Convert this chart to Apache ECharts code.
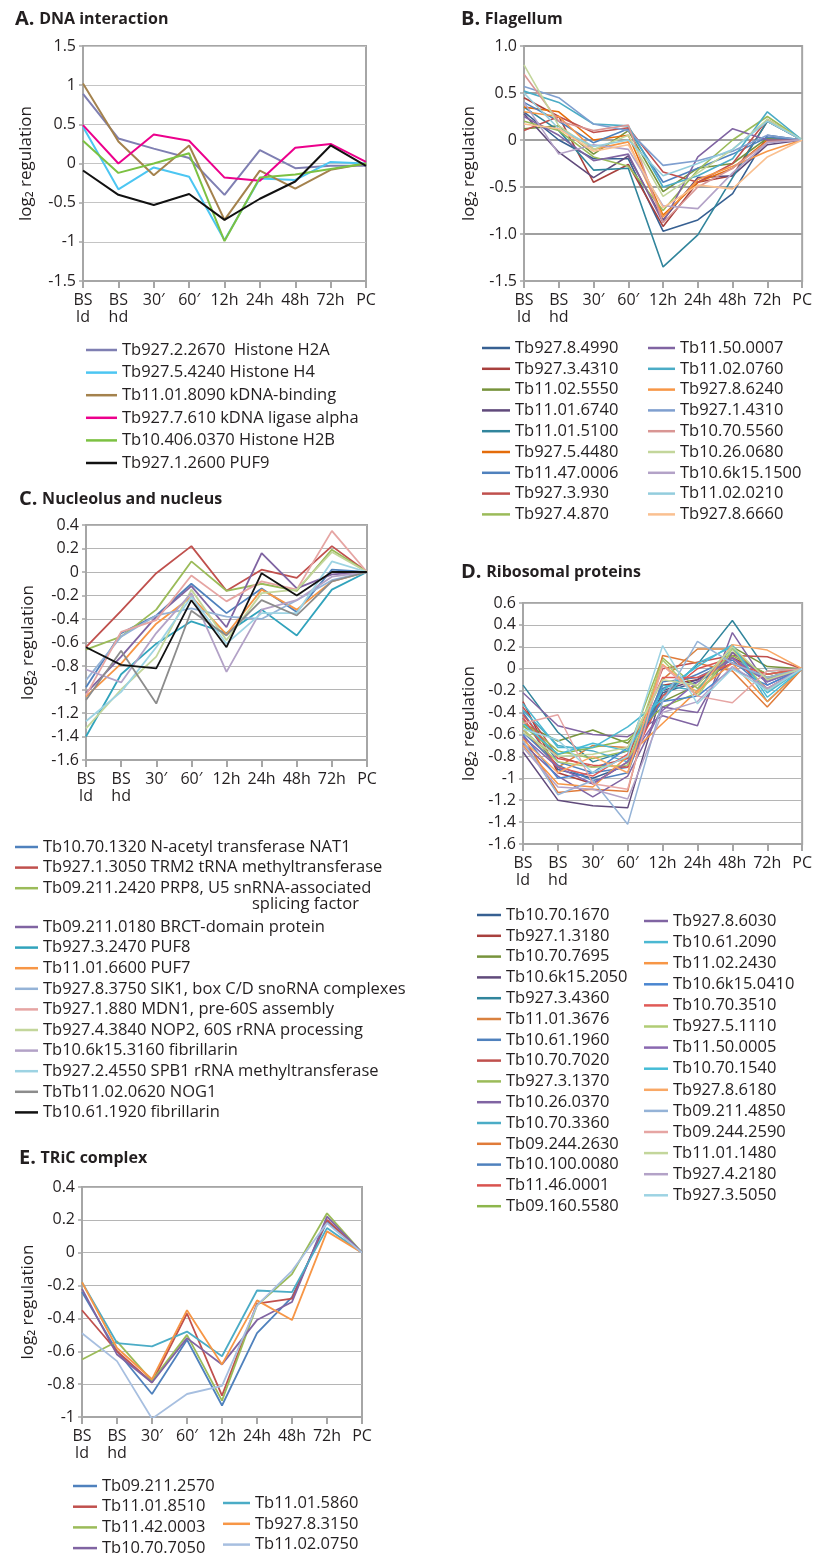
<!DOCTYPE html>
<html>
<head>
<meta charset="utf-8">
<script src="https://cdn.jsdelivr.net/npm/echarts@6/dist/echarts.min.js"></script>
<style>
  html, body { margin: 0; padding: 0; background: #fff; }
  #chart { width: 815px; height: 1558px; }
</style>
</head>
<body>
<div id="chart"></div>
<script>
// Time points of the differentiation series
const timePoints = ['BS\nld', 'BS\nhd', '30\u2032', '60\u2032', '12h', '24h', '48h', '72h', 'PC'];

// A. DNA interaction
const dnaNames = [
  'Tb927.2.2670  Histone H2A',
  'Tb927.5.4240 Histone H4',
  'Tb11.01.8090 kDNA-binding',
  'Tb927.7.610 kDNA ligase alpha',
  'Tb10.406.0370 Histone H2B',
  'Tb927.1.2600 PUF9'
];
const dnaValues = [
  [0.89, 0.32, 0.19, 0.07, -0.40, 0.17, -0.06, -0.03, -0.03],
  [0.47, -0.33, -0.05, -0.17, -0.98, -0.19, -0.21, 0.02, 0.00],
  [1.02, 0.28, -0.15, 0.23, -0.72, -0.09, -0.32, -0.08, 0.00],
  [0.49, 0.00, 0.37, 0.29, -0.18, -0.22, 0.20, 0.25, 0.02],
  [0.29, -0.12, 0.00, 0.13, -0.99, -0.18, -0.14, -0.07, 0.00],
  [-0.09, -0.40, -0.53, -0.39, -0.72, -0.45, -0.23, 0.23, -0.03]
];
const dnaColors = ['#7f7fb2', '#4cc6f2', '#a4824d', '#ec008c', '#7cc142', '#111111'];

// B. Flagellum
const flagNames = [
  'Tb927.8.4990', 'Tb927.3.4310', 'Tb11.02.5550', 'Tb11.01.6740', 'Tb11.01.5100',
  'Tb927.5.4480', 'Tb11.47.0006', 'Tb927.3.930', 'Tb927.4.870',
  'Tb11.50.0007', 'Tb11.02.0760', 'Tb927.8.6240', 'Tb927.1.4310', 'Tb10.70.5560',
  'Tb10.26.0680', 'Tb10.6k15.1500', 'Tb11.02.0210', 'Tb927.8.6660'
];
const flagValues = [
  [0.30, 0.00, -0.20, -0.20, -0.97, -0.85, -0.57, 0.05, 0],
  [0.45, 0.25, -0.45, -0.26, -0.92, -0.45, -0.38, 0.20, 0],
  [0.12, 0.15, -0.15, 0.10, -0.55, -0.30, -0.25, 0.02, 0],
  [0.28, -0.13, -0.40, -0.17, -0.85, -0.40, -0.38, -0.05, 0],
  [0.35, 0.10, -0.32, -0.30, -1.35, -1.01, -0.40, 0.20, 0],
  [0.35, 0.30, 0.00, 0.05, -0.80, -0.45, -0.30, 0.00, 0],
  [0.40, 0.20, -0.03, 0.12, -0.45, -0.30, -0.15, 0.03, 0],
  [0.10, 0.25, 0.08, 0.13, -0.34, -0.45, -0.25, 0.22, 0],
  [0.20, 0.10, -0.18, -0.28, -0.75, -0.32, 0.00, 0.25, 0],
  [0.25, 0.05, -0.22, -0.15, -0.88, -0.18, 0.12, 0.00, 0],
  [0.52, 0.40, 0.17, 0.15, -0.50, -0.38, -0.20, 0.30, 0],
  [0.30, 0.25, -0.10, -0.02, -0.82, -0.42, -0.28, -0.12, 0],
  [0.57, 0.45, 0.17, 0.10, -0.27, -0.22, -0.12, 0.05, 0],
  [0.70, 0.20, 0.10, 0.16, -0.88, -0.50, -0.30, -0.02, 0],
  [0.80, 0.15, -0.10, 0.05, -0.60, -0.35, -0.10, 0.22, 0],
  [0.40, -0.15, -0.05, -0.10, -0.70, -0.73, -0.35, -0.03, 0],
  [0.50, 0.12, -0.07, 0.00, -0.38, -0.25, -0.10, 0.20, 0],
  [0.17, 0.12, -0.12, -0.05, -0.72, -0.48, -0.52, -0.18, 0]
];
const flagColors = [
  '#376092', '#a8403d', '#77933c', '#604a7b', '#31859c', '#e46c0a',
  '#4f81bd', '#c0504d', '#9bbb59', '#8064a2', '#4bacc6', '#f79646',
  '#7f9fcf', '#d99694', '#c3d69b', '#b3a2c7', '#93cddd', '#fac090'
];

// C. Nucleolus and nucleus
const nucNames = [
  'Tb10.70.1320 N-acetyl transferase NAT1',
  'Tb927.1.3050 TRM2 tRNA methyltransferase',
  'Tb09.211.2420 PRP8, U5 snRNA-associated',
  'Tb09.211.0180 BRCT-domain protein',
  'Tb927.3.2470 PUF8',
  'Tb11.01.6600 PUF7',
  'Tb927.8.3750 SIK1, box C/D snoRNA complexes',
  'Tb927.1.880 MDN1, pre-60S assembly',
  'Tb927.4.3840 NOP2, 60S rRNA processing',
  'Tb10.6k15.3160 fibrillarin',
  'Tb927.2.4550 SPB1 rRNA methyltransferase',
  'TbTb11.02.0620 NOG1',
  'Tb10.61.1920 fibrillarin'
];
const nucValues = [
  [-0.98, -0.52, -0.37, -0.10, -0.35, -0.14, -0.34, 0.02, 0],
  [-0.64, -0.33, -0.01, 0.22, -0.16, 0.02, -0.05, 0.22, 0],
  [-0.66, -0.55, -0.32, 0.09, -0.16, -0.10, -0.16, 0.19, 0],
  [-1.03, -0.72, -0.38, -0.12, -0.47, 0.16, -0.14, -0.02, 0],
  [-1.40, -0.87, -0.61, -0.42, -0.52, -0.32, -0.54, -0.15, 0],
  [-1.06, -0.78, -0.44, -0.21, -0.53, -0.15, -0.32, -0.08, 0],
  [-0.92, -0.55, -0.37, -0.31, -0.38, -0.40, -0.24, -0.07, 0],
  [-1.05, -0.51, -0.41, -0.03, -0.25, -0.08, -0.15, 0.35, 0],
  [-1.33, -1.00, -0.72, -0.15, -0.58, -0.18, -0.15, 0.17, 0],
  [-0.83, -0.94, -0.52, -0.18, -0.85, -0.32, -0.24, -0.04, 0],
  [-1.27, -1.02, -0.64, -0.21, -0.61, -0.35, -0.35, 0.09, 0],
  [-1.09, -0.67, -1.12, -0.33, -0.54, -0.24, -0.37, -0.08, 0],
  [-0.64, -0.79, -0.82, -0.24, -0.64, -0.01, -0.20, 0.00, 0]
];
const nucColors = [
  '#4f81bd', '#c0504d', '#9bbb59', '#8064a2', '#31a3bc', '#f79646', '#95b3d7',
  '#e6a5a3', '#c3d69b', '#b3a2c7', '#9dd3e3', '#8c8c8c', '#111111'
];

// D. Ribosomal proteins
const riboNames = [
  'Tb10.70.1670', 'Tb927.1.3180', 'Tb10.70.7695', 'Tb10.6k15.2050', 'Tb927.3.4360',
  'Tb11.01.3676', 'Tb10.61.1960', 'Tb10.70.7020', 'Tb927.3.1370', 'Tb10.26.0370',
  'Tb10.70.3360', 'Tb09.244.2630', 'Tb10.100.0080', 'Tb11.46.0001', 'Tb09.160.5580',
  'Tb927.8.6030', 'Tb10.61.2090', 'Tb11.02.2430', 'Tb10.6k15.0410', 'Tb10.70.3510',
  'Tb927.5.1110', 'Tb11.50.0005', 'Tb10.70.1540', 'Tb927.8.6180', 'Tb09.211.4850',
  'Tb09.244.2590', 'Tb11.01.1480', 'Tb927.4.2180', 'Tb927.3.5050'
];
const riboValues = [
  [-0.45, -0.92, -1.00, -0.88, -0.22, -0.12, 0.05, -0.08, 0],
  [-0.30, -0.95, -1.05, -0.85, -0.15, -0.10, 0.10, -0.05, 0],
  [-0.50, -0.66, -0.56, -0.68, -0.30, -0.15, 0.20, 0.02, 0],
  [-0.76, -1.20, -1.25, -1.27, -0.20, -0.10, 0.05, -0.10, 0],
  [-0.15, -0.58, -0.85, -0.75, -0.25, 0.04, 0.44, -0.02, 0],
  [-0.55, -0.90, -0.70, -0.72, -0.10, 0.18, 0.18, -0.10, 0],
  [-0.40, -0.85, -0.95, -0.90, -0.18, -0.05, 0.10, -0.12, 0],
  [-0.35, -0.80, -0.90, -0.82, 0.00, 0.06, 0.12, 0.11, 0],
  [-0.48, -0.75, -0.82, -0.75, 0.10, -0.18, 0.15, -0.08, 0],
  [-0.22, -0.52, -0.60, -0.62, -0.43, -0.52, 0.33, -0.15, 0],
  [-0.38, -0.70, -0.75, -0.85, -0.15, -0.20, 0.20, -0.30, 0],
  [-0.62, -1.13, -1.10, -1.12, 0.12, 0.05, -0.02, -0.35, 0],
  [-0.58, -0.88, -1.02, -0.95, -0.12, -0.08, 0.08, -0.20, 0],
  [-0.42, -0.82, -0.88, -0.90, -0.25, 0.00, 0.10, -0.18, 0],
  [-0.52, -0.78, -0.72, -0.65, -0.35, -0.22, 0.12, -0.05, 0],
  [-0.68, -0.98, -1.17, -0.98, -0.35, -0.40, 0.15, -0.10, 0],
  [-0.32, -0.72, -0.72, -0.53, -0.28, 0.05, 0.20, -0.22, 0],
  [-0.70, -1.05, -1.08, -0.80, -0.50, -0.20, 0.05, -0.30, 0],
  [-0.60, -1.00, -0.95, -0.72, -0.30, -0.25, 0.00, -0.15, 0],
  [-0.45, -0.90, -0.98, -0.78, -0.08, -0.08, 0.05, -0.05, 0],
  [-0.55, -0.85, -0.90, -0.88, 0.08, -0.25, 0.18, -0.20, 0],
  [-0.62, -0.90, -1.05, -0.85, -0.38, -0.12, 0.10, -0.12, 0],
  [-0.50, -0.78, -0.68, -0.75, -0.20, 0.02, 0.22, -0.26, 0],
  [-0.65, -0.95, -0.80, -0.95, 0.04, -0.22, 0.22, 0.17, 0],
  [-0.66, -1.15, -1.02, -1.42, -0.30, 0.25, 0.05, -0.08, 0],
  [-0.50, -0.42, -1.05, -1.10, 0.03, -0.25, -0.31, -0.02, 0],
  [-0.58, -0.80, -0.78, -0.72, -0.10, -0.15, 0.20, -0.10, 0],
  [-0.72, -1.08, -1.10, -1.19, -0.40, -0.30, 0.02, -0.18, 0],
  [-0.55, -0.65, -0.95, -0.80, 0.21, -0.32, 0.00, -0.20, 0]
];
const riboColors = [
  '#376092', '#a8403d', '#77933c', '#604a7b', '#31859c', '#d9813f',
  '#4f81bd', '#c0504d', '#9bbb59', '#8064a2', '#4bacc6', '#e07b39',
  '#4f81bd', '#d9534f', '#8db64c', '#8064a2', '#4bb8d2', '#f79646',
  '#4a86d0', '#e05a57', '#b1cc75', '#8a68b0', '#45bcd6', '#f9a866',
  '#95b3d7', '#e6a5a3', '#c3d69b', '#b3a2c7', '#9dd3e3'
];

// E. TRiC complex
const tricNames = [
  'Tb09.211.2570', 'Tb11.01.8510', 'Tb11.42.0003', 'Tb10.70.7050',
  'Tb11.01.5860', 'Tb927.8.3150', 'Tb11.02.0750'
];
const tricValues = [
  [-0.24, -0.60, -0.86, -0.53, -0.93, -0.49, -0.27, 0.19, 0],
  [-0.35, -0.60, -0.79, -0.37, -0.87, -0.31, -0.28, 0.20, 0],
  [-0.65, -0.54, -0.78, -0.50, -0.90, -0.32, -0.13, 0.24, 0],
  [-0.22, -0.62, -0.79, -0.52, -0.68, -0.41, -0.30, 0.22, 0],
  [-0.18, -0.55, -0.57, -0.48, -0.63, -0.23, -0.24, 0.15, 0],
  [-0.18, -0.58, -0.77, -0.35, -0.68, -0.29, -0.41, 0.13, 0],
  [-0.49, -0.66, -1.01, -0.86, -0.81, -0.32, -0.11, 0.18, 0]
];
const tricColors = ['#4f81bd', '#c0504d', '#9bbb59', '#8064a2', '#4bacc6', '#f79646', '#a7bfe0'];

const FONT = '"Open Sans", "Noto Sans", sans-serif';
const INK = '#231f20';
const FRAME = '#a6a6a6';

const grid = [], xAxis = [], yAxis = [], series = [], legend = [], title = [];

function oneDecimal(v) { return v === 0 ? '0' : v.toFixed(1); }

function addPanel(p) {
  const idx = grid.length;
  grid.push({ left: p.left, top: p.top, width: p.width, height: p.height,
    show: true, borderColor: FRAME, borderWidth: 2, containLabel: false });
  xAxis.push({
    gridIndex: idx, type: 'category', boundaryGap: false, data: timePoints,
    axisLine: { onZero: false, lineStyle: { color: FRAME, width: 2 } },
    axisTick: { show: true, length: 7, lineStyle: { color: FRAME, width: 2 } },
    axisLabel: { interval: 0, color: INK, fontSize: 16, lineHeight: 17, margin: 11, fontFamily: FONT },
    splitLine: { show: false }
  });
  yAxis.push({
    gridIndex: idx, type: 'value', min: p.min, max: p.max, interval: p.interval,
    axisLine: { show: true, onZero: false, lineStyle: { color: FRAME, width: 2 } },
    axisTick: { show: true, length: 4, lineStyle: { color: FRAME, width: 1.5 } },
    axisLabel: { color: INK, fontSize: 16, margin: 7, fontFamily: FONT, formatter: p.fmt },
    splitLine: { show: true, lineStyle: { color: p.gridColor || '#b5b5b5', width: p.gridWidth || 1 } },
    name: 'log\u2082 regulation', nameLocation: 'middle', nameGap: p.nameGap,
    nameTextStyle: { color: INK, fontSize: 17, fontFamily: FONT }
  });
  p.names.forEach(function (n, i) {
    series.push({
      name: n, type: 'line', xAxisIndex: idx, yAxisIndex: idx,
      data: p.values[i], symbol: 'none', showSymbol: false,
      lineStyle: { color: p.colors[i], width: p.lineWidth },
      itemStyle: { color: p.colors[i] },
      emphasis: { disabled: true }, animation: false
    });
  });
  title.push({
    text: '{a|' + p.letter + '} {b|' + p.heading + '}',
    left: p.titleLeft, top: p.titleTop,
    textStyle: { rich: {
      a: { fontSize: 20, fontWeight: 'bold', color: INK, fontFamily: FONT },
      b: { fontSize: 16, fontWeight: 'bold', color: INK, fontFamily: FONT }
    } }
  });
}

function addLegend(names, left, top, gap, iconWidth) {
  legend.push({
    data: names, orient: 'vertical', left: left, top: top, itemGap: gap,
    itemWidth: iconWidth, itemHeight: 2.5, icon: 'rect', selectedMode: false,
    padding: 0,
    textStyle: { color: INK, fontSize: 16.5, lineHeight: 18, fontFamily: FONT }
  });
}

addPanel({ letter: 'A.', heading: 'DNA interaction', titleLeft: 10, titleTop: 4,
  left: 83, top: 46, width: 283, height: 235, min: -1.5, max: 1.5, interval: 0.5,
  nameGap: 48, names: dnaNames, values: dnaValues, colors: dnaColors, lineWidth: 2,
  gridColor: '#c4c4c4' });
addPanel({ letter: 'B.', heading: 'Flagellum', titleLeft: 456, titleTop: 4,
  left: 524, top: 46, width: 281, height: 235, min: -1.5, max: 1.0, interval: 0.5,
  nameGap: 46, fmt: oneDecimal, names: flagNames, values: flagValues, colors: flagColors,
  lineWidth: 1.6, gridColor: '#a0a0a0', gridWidth: 2 });
addPanel({ letter: 'C.', heading: 'Nucleolus and nucleus', titleLeft: 14, titleTop: 484,
  left: 86, top: 525, width: 281, height: 235, min: -1.6, max: 0.4, interval: 0.2,
  nameGap: 49, names: nucNames, values: nucValues, colors: nucColors, lineWidth: 1.8 });
addPanel({ letter: 'D.', heading: 'Ribosomal proteins', titleLeft: 456, titleTop: 557,
  left: 523, top: 603, width: 280, height: 241, min: -1.6, max: 0.6, interval: 0.2,
  nameGap: 45, names: riboNames, values: riboValues, colors: riboColors, lineWidth: 1.5 });
addPanel({ letter: 'E.', heading: 'TRiC complex', titleLeft: 14, titleTop: 1143,
  left: 82, top: 1187, width: 280, height: 230, min: -1, max: 0.4, interval: 0.2,
  nameGap: 45, names: tricNames, values: tricValues, colors: tricColors, lineWidth: 1.8 });

addLegend(dnaNames, 86, 341, 4.6, 31);
addLegend(flagNames.slice(0, 9), 482, 339, 2.8, 28);
addLegend(flagNames.slice(9), 648, 339, 2.8, 27);
addLegend(nucNames.slice(0, 3), 15, 838, 2.6, 23);
addLegend(nucNames.slice(3), 15, 918, 2.6, 23);
addLegend(riboNames.slice(0, 15), 477, 906, 2.8, 24);
addLegend(riboNames.slice(15), 644, 912, 3.1, 24);
addLegend(tricNames.slice(0, 4), 73, 1477, 2.7, 24);
addLegend(tricNames.slice(4), 223, 1494, 2.8, 27);

const chart = echarts.init(document.getElementById('chart'), null, { renderer: 'canvas' });
chart.setOption({
  backgroundColor: '#ffffff',
  animation: false,
  textStyle: { fontFamily: FONT, color: INK },
  title: title,
  grid: grid,
  xAxis: xAxis,
  yAxis: yAxis,
  legend: legend,
  series: series,
  graphic: [{
    type: 'text', left: 252, top: 896,
    style: { text: 'splicing factor', fill: INK, font: '16.5px ' + FONT }
  }]
});
</script>
</body>
</html>
